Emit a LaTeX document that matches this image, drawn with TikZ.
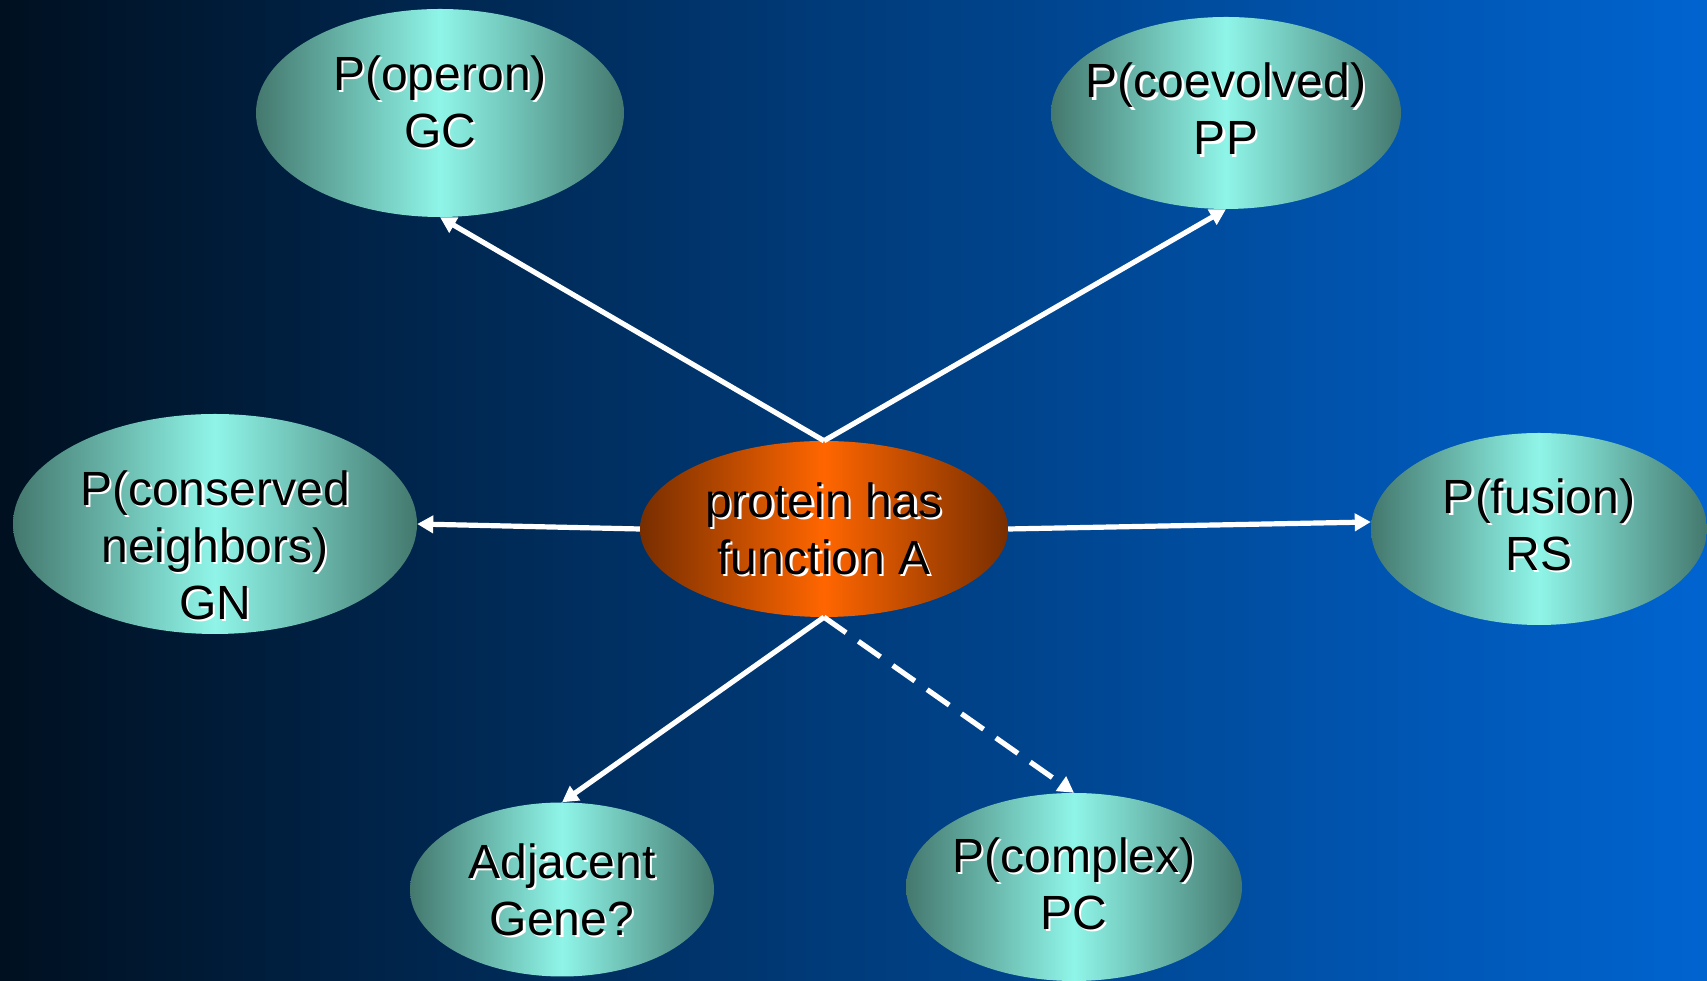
\documentclass[tikz,border=0pt]{standalone}
\usepackage{fontspec}
\setmainfont{Liberation Sans}
\usetikzlibrary{shapes.geometric,arrows.meta}
\definecolor{bgL}{RGB}{0,16,32}
\definecolor{bgM}{RGB}{0,60,124}
\definecolor{bgR}{RGB}{0,100,208}
\definecolor{tealE}{RGB}{68,120,110}
\definecolor{tealC}{RGB}{143,245,232}
\definecolor{orgE}{RGB}{120,46,0}
\definecolor{orgC}{RGB}{255,102,0}
\tikzset{
  x=1pt,y=1pt,
  bubble/.style={ellipse, inner sep=0pt, draw=none, left color=tealE, right color=tealE, middle color=tealC},
  hub/.style={ellipse, inner sep=0pt, draw=none, left color=orgE, right color=orgE, middle color=orgC},
  txt/.style={align=center, inner sep=0pt, font=\fontsize{48}{57}\selectfont},
  link/.style={draw=white, line width=5.2pt, -{Triangle[length=16pt,width=17pt]}},
}
\newcommand\mkbubble[8]{%
  \node[#6, minimum width=#4*2pt, minimum height=#5*2pt] (#1) at (#2,#3) {};
  \node[txt, text=white] (#1-s) at ([shift={(2.2,#7-2.2)}]#1.center) {#8};
  \node[txt, text=black] (#1-t) at ([shift={(0,#7)}]#1.center) {#8};
}
\begin{document}
\begin{tikzpicture}
\shade[left color=bgL, right color=bgR, middle color=bgM] (0,0) rectangle (1707,981);
\useasboundingbox (0,0) rectangle (1707,981);
\mkbubble{gc}{440}{868}{184}{104}{bubble}{11}{P(operon)\\GC}
\mkbubble{pp}{1226}{868}{175}{96}{bubble}{4}{P(coevolved)\\PP}
\mkbubble{gn}{215}{457}{202}{110}{bubble}{-21}{P(conserved\\neighbors)\\GN}
\mkbubble{rs}{1539}{452}{168}{96}{bubble}{4}{P(fusion)\\RS}
\mkbubble{adj}{562}{91.5}{152}{87}{bubble}{0}{Adjacent\\Gene?}
\mkbubble{pc}{1074}{94}{168}{94}{bubble}{3}{P(complex)\\PC}
\mkbubble{ct}{824}{452}{184}{88}{hub}{0}{protein has\\function A}
\draw[link] (ct.north) -- (gc.south);
\draw[link] (ct.north) -- (pp.south);
\draw[link] (ct.west) -- (gn.east);
\draw[link] (ct.east) -- ([yshift=7pt]rs.west);
\draw[link] (ct.south) -- (adj.north);
\draw[link, dash pattern=on 27pt off 15pt] (ct.south) -- (pc.north);
\end{tikzpicture}
\end{document}
